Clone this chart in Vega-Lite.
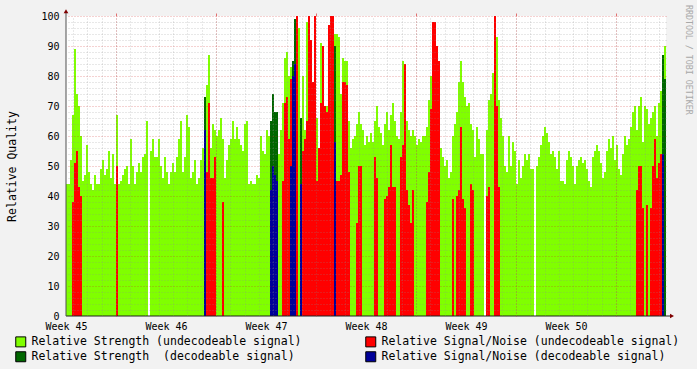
{
"$schema": "https://vega.github.io/schema/vega-lite/v6.json",
"width": 600, "height": 300,
"autosize": {"type": "none"},
"padding": {"left": 66, "top": 16, "right": 31, "bottom": 53},
"background": "#f2f2f2",
"config": {"view": {"fill": "#ffffff", "stroke": null}, "font": "DejaVu Sans Mono"},
"data": {"values": [
{"k":0,"g":44,"r":0,"d":0,"b":0},{"k":1,"g":44,"r":0,"d":0,"b":0},{"k":2,"g":52,"r":0,"d":0,"b":0},{"k":3,"g":67,"r":38,"d":0,"b":0},{"k":4,"g":89,"r":51,"d":0,"b":0},
{"k":5,"g":74,"r":55,"d":0,"b":0},{"k":6,"g":70,"r":43,"d":0,"b":0},{"k":7,"g":60,"r":40,"d":0,"b":0},{"k":8,"g":45,"r":0,"d":0,"b":0},{"k":9,"g":47,"r":0,"d":0,"b":0},
{"k":10,"g":57,"r":0,"d":0,"b":0},{"k":11,"g":48,"r":0,"d":0,"b":0},{"k":12,"g":44,"r":0,"d":0,"b":0},{"k":13,"g":42,"r":0,"d":0,"b":0},{"k":14,"g":47,"r":0,"d":0,"b":0},
{"k":15,"g":44,"r":0,"d":0,"b":0},{"k":16,"g":44,"r":0,"d":0,"b":0},{"k":17,"g":49,"r":0,"d":0,"b":0},{"k":18,"g":52,"r":0,"d":0,"b":0},{"k":19,"g":47,"r":0,"d":0,"b":0},
{"k":20,"g":49,"r":0,"d":0,"b":0},{"k":21,"g":55,"r":0,"d":0,"b":0},{"k":22,"g":46,"r":0,"d":0,"b":0},{"k":23,"g":54,"r":0,"d":0,"b":0},{"k":24,"g":44,"r":0,"d":0,"b":0},
{"k":25,"g":67,"r":50,"d":0,"b":0},{"k":26,"g":44,"r":0,"d":0,"b":0},{"k":27,"g":45,"r":0,"d":0,"b":0},{"k":28,"g":47,"r":0,"d":0,"b":0},{"k":29,"g":49,"r":0,"d":0,"b":0},
{"k":30,"g":50,"r":0,"d":0,"b":0},{"k":31,"g":44,"r":0,"d":0,"b":0},{"k":32,"g":59,"r":0,"d":0,"b":0},{"k":33,"g":50,"r":0,"d":0,"b":0},{"k":34,"g":44,"r":0,"d":0,"b":0},
{"k":35,"g":48,"r":0,"d":0,"b":0},{"k":36,"g":51,"r":0,"d":0,"b":0},{"k":37,"g":48,"r":0,"d":0,"b":0},{"k":38,"g":53,"r":0,"d":0,"b":0},{"k":39,"g":54,"r":0,"d":0,"b":0},
{"k":40,"g":65,"r":0,"d":0,"b":0},{"k":41,"g":0,"r":0,"d":0,"b":0},{"k":42,"g":55,"r":0,"d":0,"b":0},{"k":43,"g":59,"r":0,"d":0,"b":0},{"k":44,"g":53,"r":0,"d":0,"b":0},
{"k":45,"g":53,"r":0,"d":0,"b":0},{"k":46,"g":59,"r":0,"d":0,"b":0},{"k":47,"g":50,"r":0,"d":0,"b":0},{"k":48,"g":46,"r":0,"d":0,"b":0},{"k":49,"g":53,"r":0,"d":0,"b":0},
{"k":50,"g":48,"r":0,"d":0,"b":0},{"k":51,"g":44,"r":0,"d":0,"b":0},{"k":52,"g":48,"r":0,"d":0,"b":0},{"k":53,"g":51,"r":0,"d":0,"b":0},{"k":54,"g":48,"r":0,"d":0,"b":0},
{"k":55,"g":53,"r":0,"d":0,"b":0},{"k":56,"g":59,"r":0,"d":0,"b":0},{"k":57,"g":65,"r":0,"d":0,"b":0},{"k":58,"g":48,"r":0,"d":0,"b":0},{"k":59,"g":53,"r":0,"d":0,"b":0},
{"k":60,"g":67,"r":0,"d":0,"b":0},{"k":61,"g":63,"r":0,"d":0,"b":0},{"k":62,"g":46,"r":0,"d":0,"b":0},{"k":63,"g":48,"r":0,"d":0,"b":0},{"k":64,"g":52,"r":0,"d":0,"b":0},
{"k":65,"g":44,"r":0,"d":0,"b":0},{"k":66,"g":46,"r":0,"d":0,"b":0},{"k":67,"g":52,"r":0,"d":0,"b":0},{"k":68,"g":56,"r":0,"d":0,"b":0},{"k":69,"g":0,"r":0,"d":73,"b":62},
{"k":70,"g":77,"r":48,"d":0,"b":0},{"k":71,"g":87,"r":71,"d":0,"b":0},{"k":72,"g":56,"r":46,"d":0,"b":0},{"k":73,"g":64,"r":46,"d":0,"b":0},{"k":74,"g":62,"r":53,"d":0,"b":0},
{"k":75,"g":60,"r":0,"d":0,"b":0},{"k":76,"g":62,"r":0,"d":0,"b":0},{"k":77,"g":66,"r":0,"d":0,"b":0},{"k":78,"g":59,"r":38,"d":0,"b":0},{"k":79,"g":46,"r":0,"d":0,"b":0},
{"k":80,"g":52,"r":0,"d":0,"b":0},{"k":81,"g":57,"r":0,"d":0,"b":0},{"k":82,"g":59,"r":0,"d":0,"b":0},{"k":83,"g":65,"r":0,"d":0,"b":0},{"k":84,"g":59,"r":0,"d":0,"b":0},
{"k":85,"g":63,"r":0,"d":0,"b":0},{"k":86,"g":59,"r":0,"d":0,"b":0},{"k":87,"g":57,"r":0,"d":0,"b":0},{"k":88,"g":55,"r":0,"d":0,"b":0},{"k":89,"g":64,"r":0,"d":0,"b":0},
{"k":90,"g":65,"r":0,"d":0,"b":0},{"k":91,"g":44,"r":0,"d":0,"b":0},{"k":92,"g":45,"r":0,"d":0,"b":0},{"k":93,"g":44,"r":0,"d":0,"b":0},{"k":94,"g":44,"r":0,"d":0,"b":0},
{"k":95,"g":47,"r":0,"d":0,"b":0},{"k":96,"g":46,"r":0,"d":0,"b":0},{"k":97,"g":60,"r":0,"d":0,"b":0},{"k":98,"g":55,"r":0,"d":0,"b":0},{"k":99,"g":54,"r":0,"d":0,"b":0},
{"k":100,"g":62,"r":0,"d":0,"b":0},{"k":101,"g":60,"r":0,"d":0,"b":0},{"k":102,"g":0,"r":0,"d":65,"b":42},{"k":103,"g":0,"r":0,"d":74,"b":50},{"k":104,"g":0,"r":0,"d":68,"b":47},
{"k":105,"g":0,"r":0,"d":68,"b":45},{"k":106,"g":54,"r":0,"d":0,"b":0},{"k":107,"g":62,"r":0,"d":0,"b":0},{"k":108,"g":71,"r":45,"d":0,"b":0},{"k":109,"g":86,"r":71,"d":0,"b":0},
{"k":110,"g":88,"r":73,"d":0,"b":0},{"k":111,"g":80,"r":59,"d":0,"b":0},{"k":112,"g":83,"r":79,"d":0,"b":50},{"k":113,"g":0,"r":0,"d":85,"b":80},{"k":114,"g":0,"r":0,"d":99,"b":84},
{"k":115,"g":95,"r":100,"d":0,"b":0},{"k":116,"g":96,"r":0,"d":0,"b":0},{"k":117,"g":0,"r":0,"d":66,"b":44},{"k":118,"g":80,"r":55,"d":0,"b":0},{"k":119,"g":62,"r":59,"d":0,"b":0},
{"k":120,"g":98,"r":65,"d":0,"b":0},{"k":121,"g":98,"r":100,"d":0,"b":0},{"k":122,"g":90,"r":92,"d":0,"b":0},{"k":123,"g":78,"r":78,"d":0,"b":0},{"k":124,"g":80,"r":100,"d":0,"b":0},
{"k":125,"g":66,"r":45,"d":0,"b":0},{"k":126,"g":55,"r":56,"d":0,"b":0},{"k":127,"g":91,"r":71,"d":0,"b":0},{"k":128,"g":40,"r":90,"d":0,"b":0},{"k":129,"g":68,"r":70,"d":0,"b":0},
{"k":130,"g":70,"r":68,"d":0,"b":0},{"k":131,"g":60,"r":97,"d":0,"b":0},{"k":132,"g":60,"r":100,"d":0,"b":0},{"k":133,"g":60,"r":100,"d":0,"b":0},{"k":134,"g":94,"r":0,"d":90,"b":58},
{"k":135,"g":94,"r":45,"d":0,"b":0},{"k":136,"g":93,"r":45,"d":0,"b":0},{"k":137,"g":74,"r":47,"d":0,"b":0},{"k":138,"g":86,"r":78,"d":0,"b":0},{"k":139,"g":85,"r":78,"d":0,"b":0},
{"k":140,"g":85,"r":77,"d":0,"b":0},{"k":141,"g":65,"r":48,"d":0,"b":0},{"k":142,"g":56,"r":0,"d":0,"b":0},{"k":143,"g":59,"r":0,"d":0,"b":0},{"k":144,"g":60,"r":0,"d":0,"b":0},
{"k":145,"g":64,"r":31,"d":0,"b":0},{"k":146,"g":68,"r":50,"d":0,"b":0},{"k":147,"g":64,"r":50,"d":0,"b":0},{"k":148,"g":62,"r":0,"d":0,"b":0},{"k":149,"g":57,"r":0,"d":0,"b":0},
{"k":150,"g":60,"r":0,"d":0,"b":0},{"k":151,"g":58,"r":0,"d":0,"b":0},{"k":152,"g":61,"r":0,"d":0,"b":0},{"k":153,"g":58,"r":0,"d":0,"b":0},{"k":154,"g":65,"r":53,"d":0,"b":0},
{"k":155,"g":70,"r":46,"d":0,"b":0},{"k":156,"g":63,"r":0,"d":0,"b":0},{"k":157,"g":61,"r":0,"d":0,"b":0},{"k":158,"g":57,"r":0,"d":0,"b":0},{"k":159,"g":64,"r":39,"d":0,"b":0},
{"k":160,"g":68,"r":40,"d":0,"b":0},{"k":161,"g":62,"r":43,"d":0,"b":0},{"k":162,"g":67,"r":57,"d":0,"b":0},{"k":163,"g":71,"r":43,"d":0,"b":0},{"k":164,"g":65,"r":43,"d":0,"b":0},
{"k":165,"g":60,"r":0,"d":0,"b":0},{"k":166,"g":59,"r":0,"d":0,"b":0},{"k":167,"g":68,"r":53,"d":0,"b":0},{"k":168,"g":85,"r":57,"d":0,"b":0},{"k":169,"g":80,"r":84,"d":0,"b":0},
{"k":170,"g":65,"r":42,"d":0,"b":0},{"k":171,"g":62,"r":37,"d":0,"b":0},{"k":172,"g":60,"r":31,"d":0,"b":0},{"k":173,"g":62,"r":42,"d":0,"b":0},{"k":174,"g":60,"r":0,"d":0,"b":0},
{"k":175,"g":57,"r":0,"d":0,"b":0},{"k":176,"g":59,"r":0,"d":0,"b":0},{"k":177,"g":58,"r":0,"d":0,"b":0},{"k":178,"g":60,"r":0,"d":0,"b":0},{"k":179,"g":60,"r":0,"d":0,"b":0},
{"k":180,"g":63,"r":38,"d":0,"b":0},{"k":181,"g":72,"r":48,"d":0,"b":0},{"k":182,"g":80,"r":69,"d":0,"b":0},{"k":183,"g":88,"r":98,"d":0,"b":0},{"k":184,"g":85,"r":98,"d":0,"b":0},
{"k":185,"g":80,"r":90,"d":0,"b":0},{"k":186,"g":70,"r":85,"d":0,"b":0},{"k":187,"g":56,"r":0,"d":0,"b":0},{"k":188,"g":53,"r":0,"d":0,"b":0},{"k":189,"g":50,"r":0,"d":0,"b":0},
{"k":190,"g":52,"r":0,"d":0,"b":0},{"k":191,"g":46,"r":0,"d":0,"b":0},{"k":192,"g":48,"r":0,"d":0,"b":0},{"k":193,"g":60,"r":39,"d":0,"b":0},{"k":194,"g":64,"r":0,"d":0,"b":0},
{"k":195,"g":68,"r":40,"d":0,"b":0},{"k":196,"g":78,"r":42,"d":0,"b":0},{"k":197,"g":85,"r":63,"d":0,"b":0},{"k":198,"g":78,"r":39,"d":0,"b":0},{"k":199,"g":73,"r":36,"d":0,"b":0},
{"k":200,"g":70,"r":0,"d":0,"b":0},{"k":201,"g":71,"r":0,"d":0,"b":0},{"k":202,"g":64,"r":44,"d":0,"b":0},{"k":203,"g":62,"r":42,"d":0,"b":0},{"k":204,"g":53,"r":0,"d":0,"b":0},
{"k":205,"g":63,"r":0,"d":0,"b":0},{"k":206,"g":59,"r":0,"d":0,"b":0},{"k":207,"g":54,"r":0,"d":0,"b":0},{"k":208,"g":54,"r":0,"d":0,"b":0},{"k":209,"g":0,"r":0,"d":0,"b":0},
{"k":210,"g":62,"r":40,"d":0,"b":0},{"k":211,"g":72,"r":43,"d":0,"b":0},{"k":212,"g":74,"r":0,"d":0,"b":0},{"k":213,"g":81,"r":0,"d":0,"b":0},{"k":214,"g":90,"r":100,"d":0,"b":0},
{"k":215,"g":93,"r":70,"d":0,"b":0},{"k":216,"g":72,"r":43,"d":0,"b":0},{"k":217,"g":66,"r":0,"d":0,"b":0},{"k":218,"g":60,"r":0,"d":0,"b":0},{"k":219,"g":50,"r":0,"d":0,"b":0},
{"k":220,"g":48,"r":0,"d":0,"b":0},{"k":221,"g":60,"r":0,"d":0,"b":0},{"k":222,"g":50,"r":0,"d":0,"b":0},{"k":223,"g":58,"r":0,"d":0,"b":0},{"k":224,"g":55,"r":0,"d":0,"b":0},
{"k":225,"g":44,"r":0,"d":0,"b":0},{"k":226,"g":52,"r":0,"d":0,"b":0},{"k":227,"g":46,"r":0,"d":0,"b":0},{"k":228,"g":50,"r":0,"d":0,"b":0},{"k":229,"g":54,"r":0,"d":0,"b":0},
{"k":230,"g":52,"r":0,"d":0,"b":0},{"k":231,"g":54,"r":0,"d":0,"b":0},{"k":232,"g":49,"r":0,"d":0,"b":0},{"k":233,"g":49,"r":0,"d":0,"b":0},{"k":234,"g":0,"r":0,"d":0,"b":0},
{"k":235,"g":50,"r":0,"d":0,"b":0},{"k":236,"g":53,"r":0,"d":0,"b":0},{"k":237,"g":57,"r":0,"d":0,"b":0},{"k":238,"g":60,"r":0,"d":0,"b":0},{"k":239,"g":63,"r":0,"d":0,"b":0},
{"k":240,"g":61,"r":0,"d":0,"b":0},{"k":241,"g":58,"r":0,"d":0,"b":0},{"k":242,"g":54,"r":0,"d":0,"b":0},{"k":243,"g":55,"r":0,"d":0,"b":0},{"k":244,"g":53,"r":0,"d":0,"b":0},
{"k":245,"g":49,"r":0,"d":0,"b":0},{"k":246,"g":55,"r":0,"d":0,"b":0},{"k":247,"g":45,"r":0,"d":0,"b":0},{"k":248,"g":45,"r":0,"d":0,"b":0},{"k":249,"g":44,"r":0,"d":0,"b":0},
{"k":250,"g":52,"r":0,"d":0,"b":0},{"k":251,"g":55,"r":0,"d":0,"b":0},{"k":252,"g":53,"r":0,"d":0,"b":0},{"k":253,"g":50,"r":0,"d":0,"b":0},{"k":254,"g":44,"r":0,"d":0,"b":0},
{"k":255,"g":50,"r":0,"d":0,"b":0},{"k":256,"g":52,"r":0,"d":0,"b":0},{"k":257,"g":53,"r":0,"d":0,"b":0},{"k":258,"g":51,"r":0,"d":0,"b":0},{"k":259,"g":52,"r":0,"d":0,"b":0},
{"k":260,"g":49,"r":0,"d":0,"b":0},{"k":261,"g":45,"r":0,"d":0,"b":0},{"k":262,"g":43,"r":0,"d":0,"b":0},{"k":263,"g":53,"r":0,"d":0,"b":0},{"k":264,"g":55,"r":0,"d":0,"b":0},
{"k":265,"g":57,"r":0,"d":0,"b":0},{"k":266,"g":55,"r":0,"d":0,"b":0},{"k":267,"g":51,"r":0,"d":0,"b":0},{"k":268,"g":46,"r":0,"d":0,"b":0},{"k":269,"g":48,"r":0,"d":0,"b":0},
{"k":270,"g":55,"r":0,"d":0,"b":0},{"k":271,"g":59,"r":0,"d":0,"b":0},{"k":272,"g":56,"r":0,"d":0,"b":0},{"k":273,"g":60,"r":0,"d":0,"b":0},{"k":274,"g":52,"r":0,"d":0,"b":0},
{"k":275,"g":57,"r":0,"d":0,"b":0},{"k":276,"g":49,"r":0,"d":0,"b":0},{"k":277,"g":47,"r":0,"d":0,"b":0},{"k":278,"g":54,"r":0,"d":0,"b":0},{"k":279,"g":60,"r":0,"d":0,"b":0},
{"k":280,"g":57,"r":0,"d":0,"b":0},{"k":281,"g":59,"r":0,"d":0,"b":0},{"k":282,"g":63,"r":0,"d":0,"b":0},{"k":283,"g":68,"r":0,"d":0,"b":0},{"k":284,"g":70,"r":0,"d":0,"b":0},
{"k":285,"g":62,"r":42,"d":0,"b":0},{"k":286,"g":70,"r":50,"d":0,"b":0},{"k":287,"g":73,"r":50,"d":0,"b":0},{"k":288,"g":58,"r":36,"d":0,"b":0},{"k":289,"g":70,"r":0,"d":0,"b":0},
{"k":290,"g":69,"r":37,"d":0,"b":0},{"k":291,"g":64,"r":0,"d":0,"b":0},{"k":292,"g":66,"r":36,"d":0,"b":0},{"k":293,"g":68,"r":50,"d":0,"b":0},{"k":294,"g":70,"r":59,"d":0,"b":0},
{"k":295,"g":60,"r":46,"d":0,"b":0},{"k":296,"g":71,"r":51,"d":0,"b":0},{"k":297,"g":75,"r":54,"d":0,"b":0},{"k":298,"g":0,"r":0,"d":87,"b":54},{"k":299,"g":90,"r":0,"d":79,"b":0},
{"k":300,"g":90,"r":0,"d":79,"b":0}
]},
"layer": [
{"mark": {"type": "area", "interpolate": "step-after", "opacity": 1},
 "encoding": {
  "x": {"field": "k", "type": "quantitative", "scale": {"domain": [0, 300], "nice": false, "zero": false},
        "axis": {"values": [0, 50, 100, 150, 200, 250], "labelExpr": "'Week ' + (45 + datum.value / 50)", "grid": false, "ticks": false, "tickSize": 0, "domain": false, "labelFont": "DejaVu Sans Mono", "labelFontSize": 10, "labelColor": "#000000", "labelBaseline": "alphabetic", "labelPadding": 13, "labelAlign": "center", "labelFlush": false, "labelOverlap": false, "title": null}},
  "y": {"field": "g", "type": "quantitative", "stack": null, "scale": {"domain": [0, 100], "nice": false},
        "axis": {"values": [0, 10, 20, 30, 40, 50, 60, 70, 80, 90, 100], "grid": false, "ticks": false, "tickSize": 0, "domain": false, "labelFont": "DejaVu Sans Mono", "labelFontSize": 10, "labelColor": "#000000", "labelPadding": 7, "labelFlush": false, "labelOverlap": false, "title": "Relative Quality", "titleFont": "DejaVu Sans Mono", "titleFontSize": 11.5, "titleFontWeight": "normal", "titleColor": "#000000", "titleX": -51, "titleY": 150, "titleAngle": -90, "titleBaseline": "alphabetic", "titleAlign": "center"}},
  "color": {"datum": "Relative Strength (undecodeable signal)", "type": "nominal",
        "scale": {"domain": ["Relative Strength (undecodeable signal)", "Relative Signal/Noise (undecodeable signal)", "Relative Strength\u00a0 (decodeable signal)", "Relative Signal/Noise (decodeable signal)"], "range": ["#80ff00", "#ff0000", "#006600", "#000099"]},
        "legend": {"orient": "none", "legendX": -51, "legendY": 320, "direction": "horizontal", "columns": 2, "columnPadding": 61, "rowPadding": 0, "symbolType": "square", "symbolSize": 100, "symbolStrokeColor": "#000000", "symbolStrokeWidth": 1, "symbolOpacity": 1, "labelFont": "DejaVu Sans Mono", "labelFontSize": 11.5, "labelColor": "#000000", "labelOffset": 5, "labelLimit": 0, "padding": 0, "title": null}}
 }},
{"mark": {"type": "area", "interpolate": "step-after", "opacity": 1},
 "encoding": {
  "x": {"field": "k", "type": "quantitative",
        "axis": {"values": [3.571, 10.714, 17.857, 25, 32.143, 39.286, 46.429, 53.571, 60.714, 67.857, 75, 82.143, 89.286, 96.429, 103.571, 110.714, 117.857, 125, 132.143, 139.286, 146.429, 153.571, 160.714, 167.857, 175, 182.143, 189.286, 196.429, 203.571, 210.714, 217.857, 225, 232.143, 239.286, 246.429, 253.571, 260.714, 267.857, 275, 282.143, 289.286, 296.429], "grid": true, "gridColor": "#8c8c8c", "gridOpacity": 0.4, "gridDash": [1, 2], "labels": false, "ticks": false, "domain": false, "title": null, "zindex": 1}},
  "y": {"field": "r", "type": "quantitative", "stack": null,
        "axis": {"values": [2, 4, 6, 8, 12, 14, 16, 18, 22, 24, 26, 28, 32, 34, 36, 38, 42, 44, 46, 48, 52, 54, 56, 58, 62, 64, 66, 68, 72, 74, 76, 78, 82, 84, 86, 88, 92, 94, 96, 98], "grid": true, "gridColor": "#8c8c8c", "gridOpacity": 0.4, "gridDash": [1, 2], "labels": false, "ticks": false, "domain": false, "title": null, "zindex": 1}},
  "color": {"datum": "Relative Signal/Noise (undecodeable signal)", "type": "nominal"}
 }},
{"mark": {"type": "area", "interpolate": "step-after", "opacity": 1},
 "encoding": {
  "x": {"field": "k", "type": "quantitative",
        "axis": {"values": [25, 75, 125, 175, 225, 275], "grid": true, "gridColor": "#cc2020", "gridOpacity": 0.4, "gridDash": [1, 2], "labels": false, "ticks": true, "tickSize": 3, "tickColor": "#e07070", "domain": false, "title": null, "zindex": 1}},
  "y": {"field": "d", "type": "quantitative", "stack": null,
        "axis": {"values": [10, 20, 30, 40, 50, 60, 70, 80, 90, 100], "grid": true, "gridColor": "#cc2020", "gridOpacity": 0.4, "gridDash": [1, 2], "labels": false, "ticks": false, "domain": false, "title": null, "zindex": 1}},
  "color": {"datum": "Relative Strength\u00a0 (decodeable signal)", "type": "nominal"}
 }},
{"mark": {"type": "area", "interpolate": "step-after", "opacity": 1},
 "encoding": {
  "x": {"field": "k", "type": "quantitative", "axis": null},
  "y": {"field": "b", "type": "quantitative", "stack": null, "axis": null},
  "color": {"datum": "Relative Signal/Noise (decodeable signal)", "type": "nominal"}
 }},
{"data": {"values": [{}]},
 "mark": {"type": "rule", "color": "#202020", "strokeWidth": 1},
 "encoding": {"x": {"datum": 0, "type": "quantitative", "axis": null}, "x2": {"datum": 302}, "y": {"datum": 0, "type": "quantitative", "axis": null}}},
{"data": {"values": [{}]},
 "mark": {"type": "rule", "color": "#505050", "strokeWidth": 1},
 "encoding": {"x": {"datum": 0, "type": "quantitative", "axis": null}, "y": {"datum": 0, "type": "quantitative", "axis": null}, "y2": {"datum": 101.5}}},
{"data": {"values": [{}]},
 "mark": {"type": "point", "shape": "triangle-right", "filled": true, "size": 22, "color": "#7f0000", "opacity": 1},
 "encoding": {"x": {"datum": 303, "type": "quantitative", "axis": null}, "y": {"datum": 0, "type": "quantitative", "axis": null}}},
{"data": {"values": [{}]},
 "mark": {"type": "point", "shape": "triangle-up", "filled": true, "size": 22, "color": "#7f0000", "opacity": 1},
 "encoding": {"x": {"datum": 0, "type": "quantitative", "axis": null}, "y": {"datum": 101.6, "type": "quantitative", "axis": null}}},
{"data": {"values": [{"note": "RRDTOOL / TOBI OETIKER"}]},
 "mark": {"type": "text", "angle": 90, "align": "left", "baseline": "middle", "font": "DejaVu Sans Mono", "fontSize": 8.3, "color": "#a8a8a8"},
 "encoding": {"x": {"datum": 311, "type": "quantitative", "axis": null}, "y": {"datum": 103.7, "type": "quantitative", "axis": null}, "text": {"field": "note"}}}
],
"resolve": {"axis": {"x": "independent", "y": "independent"}}
}
